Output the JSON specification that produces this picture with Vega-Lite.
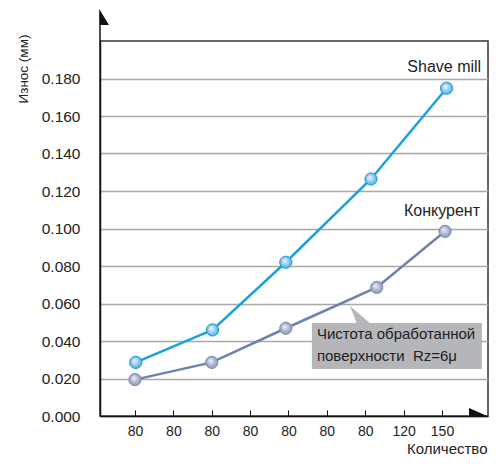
{
  "$schema": "https://vega.github.io/schema/vega-lite/v6.json",
  "width": 388,
  "height": 375,
  "autosize": "none",
  "padding": {"left": 100, "top": 41, "right": 13, "bottom": 48},
  "background": "white",
  "config": {
    "font": "Liberation Sans",
    "view": {"stroke": "#333333", "strokeWidth": 1.5}
  },
  "datasets": {
    "series": [
      {"series": "Shave mill", "n": 0.02, "wear": 0.0286},
      {"series": "Shave mill", "n": 2.02, "wear": 0.0459},
      {"series": "Shave mill", "n": 3.93, "wear": 0.082},
      {"series": "Shave mill", "n": 6.15, "wear": 0.1264},
      {"series": "Shave mill", "n": 8.12, "wear": 0.1748},
      {"series": "Конкурент", "n": 0.0, "wear": 0.0194},
      {"series": "Конкурент", "n": 2.0, "wear": 0.0286},
      {"series": "Конкурент", "n": 3.93, "wear": 0.0468},
      {"series": "Конкурент", "n": 6.3, "wear": 0.0686},
      {"series": "Конкурент", "n": 8.08, "wear": 0.0985}
    ],
    "labels": [
      {"x": 9.02, "y": 0.1861, "text": "Shave mill"},
      {"x": 8.99, "y": 0.1093, "text": "Конкурент"}
    ],
    "box": [{"x": 4.61, "x2": 9.04, "y": 0.0496, "y2": 0.0251}],
    "pointer": [{"x": 5.863, "y": 0.0539}],
    "note": [
      {"x": 4.74, "y": 0.0437, "text": "Чистота обработанной"},
      {"x": 4.74, "y": 0.032, "text": "поверхности\u00a0\u00a0Rz=6μ"}
    ],
    "topArrow": [{"x": -0.912, "y": 0.2128}],
    "axisExt": [{"x": -0.912, "y": 0.2, "y2": 0.209}],
    "rightArrow": [{"x": 9.199, "y": 0}]
  },
  "data": {"name": "series"},
  "encoding": {
    "x": {
      "field": "n",
      "type": "quantitative",
      "scale": {"domain": [-0.912, 9.199], "nice": false, "zero": false},
      "axis": {
        "values": [0, 1, 2, 3, 4, 5, 6, 7, 8],
        "labelExpr": "['80','80','80','80','80','80','80','120','150'][datum.value]",
        "grid": false,
        "domainColor": "#111111",
        "domainWidth": 1.5,
        "tickColor": "#111111",
        "tickSize": -6,
        "tickWidth": 1,
        "labelPadding": 14,
        "labelFontSize": 14,
        "labelColor": "#222222",
        "labelFlush": false,
        "title": "Количество",
        "titleFontSize": 15,
        "titleFontWeight": "normal",
        "titleColor": "#222222",
        "titleX": 387,
        "titleY": 32,
        "titleAlign": "right",
        "titleBaseline": "middle"
      }
    },
    "y": {
      "field": "wear",
      "type": "quantitative",
      "scale": {"domain": [0, 0.2], "nice": false},
      "axis": {
        "values": [0, 0.02, 0.04, 0.06, 0.08, 0.1, 0.12, 0.14, 0.16, 0.18],
        "format": ".3f",
        "grid": true,
        "gridColor": "#a8a8a8",
        "gridWidth": 1.3,
        "ticks": false,
        "domainColor": "#111111",
        "domainWidth": 1.5,
        "labelPadding": 20,
        "labelFontSize": 15.5,
        "labelColor": "#222222",
        "labelFlush": false,
        "title": "Износ (мм)",
        "titleFontSize": 13.5,
        "titleFontWeight": "normal",
        "titleColor": "#222222",
        "titleAngle": -90,
        "titleX": -77,
        "titleY": 62,
        "titleAlign": "left",
        "titleBaseline": "middle"
      }
    }
  },
  "layer": [
    {
      "data": {"name": "box"},
      "mark": {"type": "rect", "fill": "#b5b6b9"},
      "encoding": {"x": {"field": "x"}, "x2": {"field": "x2"}, "y": {"field": "y"}, "y2": {"field": "y2"}}
    },
    {
      "data": {"name": "pointer"},
      "mark": {"type": "point", "filled": true, "fill": "#b5b6b9", "opacity": 1, "size": 400, "shape": "M -1 -0.9 L -0.3 0.9 L 1.1 0.9 Z"},
      "encoding": {"x": {"field": "x"}, "y": {"field": "y"}}
    },
    {
      "mark": {"type": "line", "strokeWidth": 2.5},
      "encoding": {
        "color": {
          "field": "series",
          "type": "nominal",
          "scale": {"domain": ["Shave mill", "Конкурент"], "range": ["#1ba1db", "#6d82ab"]},
          "legend": null
        }
      }
    },
    {
      "transform": [{"filter": "datum.series === 'Shave mill'"}],
      "mark": {
        "type": "point",
        "filled": true,
        "opacity": 1,
        "size": 150,
        "stroke": "#1e9ad4",
        "strokeWidth": 1,
        "fill": {"gradient": "radial", "x1": 0.38, "y1": 0.35, "r1": 0, "x2": 0.5, "y2": 0.5, "r2": 0.55,
          "stops": [{"offset": 0, "color": "#f2f9ff"}, {"offset": 0.5, "color": "#9fd0f1"}, {"offset": 1, "color": "#3aa6e0"}]}
      }
    },
    {
      "transform": [{"filter": "datum.series === 'Конкурент'"}],
      "mark": {
        "type": "point",
        "filled": true,
        "opacity": 1,
        "size": 150,
        "stroke": "#7f8bab",
        "strokeWidth": 1,
        "fill": {"gradient": "radial", "x1": 0.38, "y1": 0.35, "r1": 0, "x2": 0.5, "y2": 0.5, "r2": 0.55,
          "stops": [{"offset": 0, "color": "#f4f5fa"}, {"offset": 0.5, "color": "#b5bdd6"}, {"offset": 1, "color": "#8590b3"}]}
      }
    },
    {
      "data": {"name": "labels"},
      "mark": {"type": "text", "align": "right", "baseline": "middle", "fontSize": 16, "color": "#222222"},
      "encoding": {"x": {"field": "x"}, "y": {"field": "y"}, "text": {"field": "text"}}
    },
    {
      "data": {"name": "note"},
      "mark": {"type": "text", "align": "left", "baseline": "middle", "fontSize": 15, "color": "#222222"},
      "encoding": {"x": {"field": "x"}, "y": {"field": "y"}, "text": {"field": "text"}}
    },
    {
      "data": {"name": "axisExt"},
      "mark": {"type": "rule", "color": "#111111", "strokeWidth": 1.5, "clip": false},
      "encoding": {"x": {"field": "x"}, "y": {"field": "y"}, "y2": {"field": "y2"}}
    },
    {
      "data": {"name": "topArrow"},
      "mark": {"type": "point", "filled": true, "fill": "#111111", "opacity": 1, "size": 256, "clip": false, "shape": "M -0.1 -1 L -0.1 1 L 1.125 1 Z"},
      "encoding": {"x": {"field": "x"}, "y": {"field": "y"}}
    },
    {
      "data": {"name": "rightArrow"},
      "mark": {"type": "point", "filled": true, "fill": "#111111", "opacity": 1, "size": 256, "clip": false, "shape": "M -2.375 -1 L -2.375 0 L -0.1 0 Z"},
      "encoding": {"x": {"field": "x"}, "y": {"field": "y"}}
    }
  ]
}
